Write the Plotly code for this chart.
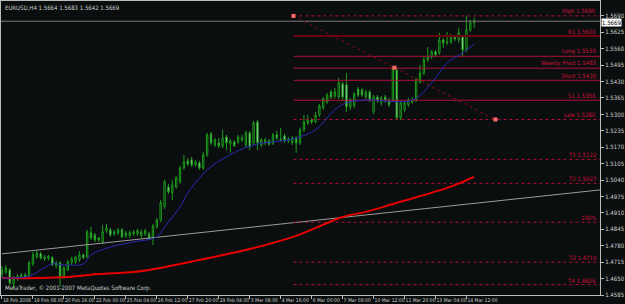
import plotly.graph_objects as go

# ---------------- data ----------------
symbol_header = "EURUSD,H4 1.5664 1.5683 1.5642 1.5669"
copyright_text = "MetaTrader, © 2001-2007 MetaQuotes Software Corp."

time_labels = ["18 Feb 2008", "19 Feb 08:00", "20 Feb 16:00", "22 Feb 00:00", "25 Feb 04:00",
               "26 Feb 12:00", "27 Feb 20:00", "29 Feb 04:00", "3 Mar 08:00", "4 Mar 16:00",
               "6 Mar 00:00", "7 Mar 08:00", "10 Mar 12:00", "11 Mar 20:00", "13 Mar 04:00",
               "14 Mar 12:00"]
time_label_bars = [0, 8, 16, 24, 32, 40, 48, 56, 64, 72, 80, 88, 96, 104, 112, 120]

price_ticks = [1.4585, 1.4650, 1.4715, 1.4780, 1.4845, 1.4910, 1.4975, 1.5040, 1.5105,
               1.5170, 1.5235, 1.5300, 1.5365, 1.5430, 1.5495, 1.5560, 1.5625, 1.5690]

opens = [1.4668, 1.4676, 1.4684, 1.4629, 1.4649, 1.4656, 1.4664, 1.4660, 1.4708, 1.4736,
         1.4748, 1.4728, 1.4730, 1.4732, 1.4704, 1.4712, 1.4656, 1.4684, 1.4712, 1.4716,
         1.4724, 1.4744, 1.4736, 1.4831, 1.4823, 1.4811, 1.4795, 1.4839, 1.4843, 1.4827,
         1.4831, 1.4843, 1.4819, 1.4820, 1.4827, 1.4827, 1.4819, 1.4827, 1.4827, 1.4811,
         1.4855, 1.4882, 1.4934, 1.5013, 1.4989, 1.5013, 1.5033, 1.5088, 1.5116, 1.5120,
         1.5100, 1.5108, 1.5088, 1.5140, 1.5223, 1.5179, 1.5187, 1.5175, 1.5211, 1.5183,
         1.5191, 1.5191, 1.5199, 1.5179, 1.5227, 1.5187, 1.5270, 1.5179, 1.5187, 1.5195,
         1.5187, 1.5219, 1.5199, 1.5215, 1.5195, 1.5187, 1.5207, 1.5187, 1.5239, 1.5266,
         1.5278, 1.5270, 1.5298, 1.5326, 1.5349, 1.5389, 1.5373, 1.5369, 1.5421, 1.5417,
         1.5330, 1.5334, 1.5401, 1.5397, 1.5369, 1.5389, 1.5310, 1.5369, 1.5346, 1.5369,
         1.5357, 1.5357, 1.5476, 1.5286, 1.5318, 1.5338, 1.5349, 1.5357, 1.5429, 1.5464,
         1.5516, 1.5528, 1.5548, 1.5544, 1.5595, 1.5583, 1.5587, 1.5607, 1.5595, 1.5607,
         1.5555, 1.5635, 1.5664]
highs = [1.4700, 1.4704, 1.4692, 1.4660, 1.4668, 1.4672, 1.4672, 1.4720, 1.4756, 1.4763,
         1.4756, 1.4744, 1.4745, 1.4740, 1.4720, 1.4720, 1.4700, 1.4724, 1.4736, 1.4740,
         1.4759, 1.4748, 1.4843, 1.4855, 1.4831, 1.4815, 1.4862, 1.4866, 1.4851, 1.4843,
         1.4851, 1.4851, 1.4839, 1.4840, 1.4843, 1.4847, 1.4843, 1.4847, 1.4835, 1.4866,
         1.4890, 1.4961, 1.5041, 1.5025, 1.5041, 1.5056, 1.5096, 1.5140, 1.5128, 1.5132,
         1.5120, 1.5116, 1.5152, 1.5227, 1.5231, 1.5207, 1.5207, 1.5239, 1.5219, 1.5203,
         1.5199, 1.5219, 1.5219, 1.5235, 1.5235, 1.5274, 1.5278, 1.5207, 1.5207, 1.5203,
         1.5227, 1.5235, 1.5247, 1.5223, 1.5211, 1.5215, 1.5215, 1.5247, 1.5298, 1.5298,
         1.5286, 1.5310, 1.5342, 1.5369, 1.5385, 1.5397, 1.5405, 1.5445, 1.5429, 1.5464,
         1.5365, 1.5389, 1.5409, 1.5405, 1.5397, 1.5397, 1.5377, 1.5377, 1.5373, 1.5377,
         1.5365, 1.5492, 1.5484, 1.5353, 1.5353, 1.5365, 1.5369, 1.5445, 1.5496, 1.5528,
         1.5567, 1.5555, 1.5555, 1.5623, 1.5603, 1.5627, 1.5619, 1.5615, 1.5643, 1.5615,
         1.5690, 1.5674, 1.5683]
lows = [1.4656, 1.4668, 1.4625, 1.4609, 1.4641, 1.4649, 1.4649, 1.4656, 1.4700, 1.4728,
        1.4724, 1.4720, 1.4722, 1.4700, 1.4692, 1.4617, 1.4649, 1.4680, 1.4704, 1.4708,
        1.4716, 1.4728, 1.4732, 1.4803, 1.4795, 1.4795, 1.4787, 1.4831, 1.4815, 1.4819,
        1.4823, 1.4811, 1.4811, 1.4812, 1.4819, 1.4819, 1.4811, 1.4819, 1.4807, 1.4783,
        1.4847, 1.4874, 1.4926, 1.4985, 1.4961, 1.5005, 1.5025, 1.5080, 1.5096, 1.5092,
        1.5092, 1.5080, 1.5080, 1.5132, 1.5179, 1.5171, 1.5167, 1.5167, 1.5159, 1.5148,
        1.5171, 1.5183, 1.5191, 1.5171, 1.5159, 1.5179, 1.5159, 1.5171, 1.5179, 1.5175,
        1.5179, 1.5199, 1.5191, 1.5187, 1.5187, 1.5179, 1.5148, 1.5179, 1.5231, 1.5258,
        1.5262, 1.5266, 1.5290, 1.5318, 1.5342, 1.5361, 1.5365, 1.5361, 1.5357, 1.5310,
        1.5318, 1.5326, 1.5369, 1.5369, 1.5361, 1.5349, 1.5302, 1.5346, 1.5334, 1.5346,
        1.5330, 1.5349, 1.5280, 1.5278, 1.5310, 1.5330, 1.5342, 1.5349, 1.5421, 1.5456,
        1.5508, 1.5520, 1.5528, 1.5536, 1.5563, 1.5575, 1.5579, 1.5591, 1.5583, 1.5528,
        1.5548, 1.5627, 1.5642]
closes = [1.4684, 1.4692, 1.4633, 1.4652, 1.4660, 1.4664, 1.4656, 1.4712, 1.4744, 1.4752,
          1.4732, 1.4736, 1.4738, 1.4704, 1.4712, 1.4656, 1.4692, 1.4716, 1.4728, 1.4736,
          1.4744, 1.4732, 1.4835, 1.4811, 1.4803, 1.4803, 1.4835, 1.4851, 1.4823, 1.4835,
          1.4843, 1.4815, 1.4831, 1.4832, 1.4835, 1.4839, 1.4835, 1.4839, 1.4811, 1.4858,
          1.4882, 1.4950, 1.5033, 1.4993, 1.5021, 1.5049, 1.5088, 1.5112, 1.5104, 1.5100,
          1.5112, 1.5088, 1.5140, 1.5219, 1.5187, 1.5199, 1.5175, 1.5207, 1.5187, 1.5195,
          1.5175, 1.5211, 1.5207, 1.5227, 1.5171, 1.5266, 1.5187, 1.5199, 1.5199, 1.5183,
          1.5219, 1.5207, 1.5203, 1.5195, 1.5203, 1.5207, 1.5187, 1.5239, 1.5270, 1.5278,
          1.5270, 1.5298, 1.5334, 1.5361, 1.5377, 1.5369, 1.5389, 1.5425, 1.5369, 1.5330,
          1.5357, 1.5381, 1.5377, 1.5377, 1.5389, 1.5357, 1.5369, 1.5353, 1.5365, 1.5353,
          1.5338, 1.5484, 1.5286, 1.5346, 1.5346, 1.5357, 1.5357, 1.5437, 1.5464, 1.5516,
          1.5528, 1.5548, 1.5536, 1.5595, 1.5583, 1.5587, 1.5607, 1.5599, 1.5623, 1.5555,
          1.5635, 1.5662, 1.5669]
bars = list(range(len(opens)))

blue_ma_bars = [0, 7, 13, 16, 21, 23, 28, 34, 40, 42, 46, 48, 53, 58, 65, 74, 77, 81, 86, 89,
                94, 106, 111, 115, 119, 122]
blue_ma_vals = [1.4652, 1.4660, 1.4708, 1.4704, 1.4708, 1.4744, 1.4775, 1.4795, 1.4815, 1.4855,
                1.4934, 1.4989, 1.5080, 1.5132, 1.5179, 1.5199, 1.5211, 1.5239, 1.5318, 1.5346,
                1.5357, 1.5357, 1.5425, 1.5504, 1.5544, 1.5579]

red_ma_bars = [0, 10, 17, 25, 34, 41, 46, 51, 64, 76, 88, 94, 102, 115, 122]
red_ma_vals = [1.4652, 1.4652, 1.4656, 1.4668, 1.4676, 1.4692, 1.4708, 1.4724, 1.4767, 1.4819,
               1.4894, 1.4914, 1.4950, 1.5009, 1.5053]

trend_bars = [0, 154.5]
trend_vals = [1.4748, 1.5001]

bid_price = 1.5669

level_names = ["High", "R1", "Long", "Weekly Pivot", "Short", "S1", "Low",
               "T1", "T2", "100%", "T3", "T4"]
level_vals = [1.5690, 1.5610, 1.5530, 1.5483, 1.5435, 1.5356, 1.5280,
              1.5122, 1.5027, 1.4873, 1.4715, 1.4626]
level_start_bar = 75.3

diag_bars = [75.3, 101.4, 127.5]
diag_vals = [1.5690, 1.5485, 1.5280]

# ---------------- styling ----------------
BG = "#0a0e0e"
AXIS = "#bcbcbc"
TXT = "#cfcfcf"
CANDLE_LINE = "#1c9c1c"
X_MAX = 154.5
Y_RANGE = [1.4585, 1.5749]
FONT = "Liberation Sans Narrow, DejaVu Sans Condensed, Liberation Sans, sans-serif"
FS = 6
FS_X = 5

level_style = {
    "High": ("#b0103a", "dot", 1), "R1": ("#6e0010", "solid", 2),
    "Long": ("#b0103a", "solid", 1), "Weekly Pivot": ("#b0103a", "solid", 1),
    "Short": ("#b0103a", "solid", 1), "S1": ("#b0103a", "solid", 1),
    "Low": ("#b0103a", "dot", 1),
}

fig = go.Figure()

# trend line
fig.add_trace(go.Scatter(x=trend_bars, y=trend_vals, mode="lines",
                         line=dict(color="#9c9c9c", width=1), hoverinfo="skip"))
# bid line
fig.add_trace(go.Scatter(x=[-1, X_MAX + 1], y=[bid_price, bid_price], mode="lines",
                         line=dict(color="#7a7a7a", width=1), hoverinfo="skip"))

# level lines
for name, val in zip(level_names, level_vals):
    col, dash, w = level_style.get(name, ("#b0103a", "dot", 1))
    fig.add_trace(go.Scatter(x=[level_start_bar, X_MAX + 1], y=[val, val], mode="lines",
                             line=dict(color=col, dash=dash, width=w), hoverinfo="skip"))
    label = name if name.endswith("%") else f"{name} {val:.4f}"
    fig.add_annotation(x=X_MAX - 0.4, y=val, xref="x", yref="y", text=label,
                       showarrow=False, xanchor="right", yanchor="bottom", yshift=-1,
                       font=dict(family=FONT, size=FS, color="#d0103a"))

# diagonal
fig.add_trace(go.Scatter(x=diag_bars, y=diag_vals, mode="lines+markers",
                         line=dict(color="#8a0a1a", dash="dot", width=1),
                         marker=dict(symbol="square", size=4, color="#ff6a6a"),
                         hoverinfo="skip"))

# moving averages
fig.add_trace(go.Scatter(x=red_ma_bars, y=red_ma_vals, mode="lines",
                         line=dict(color="#e80000", width=2, shape="spline"), hoverinfo="skip"))
fig.add_trace(go.Scatter(x=blue_ma_bars, y=blue_ma_vals, mode="lines",
                         line=dict(color="#2a2ab8", width=1, shape="spline"), hoverinfo="skip"))

# candles
fig.add_trace(go.Candlestick(
    x=bars, open=opens, high=highs, low=lows, close=closes,
    increasing=dict(line=dict(color=CANDLE_LINE, width=1), fillcolor="#000000"),
    decreasing=dict(line=dict(color=CANDLE_LINE, width=1), fillcolor="#eaffea"),
    whiskerwidth=0, hoverinfo="skip"))

# texts
fig.add_annotation(x=0, y=1, xref="paper", yref="paper", text=symbol_header,
                   showarrow=False, xanchor="left", yanchor="top", xshift=2, yshift=-1,
                   font=dict(family=FONT, size=FS, color=TXT))
fig.add_annotation(x=0, y=0, xref="paper", yref="paper", text=copyright_text,
                   showarrow=False, xanchor="left", yanchor="bottom", xshift=2, yshift=1,
                   font=dict(family=FONT, size=FS, color=TXT))
fig.add_annotation(x=1, y=bid_price, xref="paper", yref="y", text=f"{bid_price:.4f}",
                   showarrow=False, xanchor="left", yanchor="middle", xshift=1, yshift=-1,
                   bgcolor="#ffffff", borderpad=0,
                   font=dict(family=FONT, size=FS, color="#000000"))

fig.update_layout(
    width=625, height=304, margin=dict(l=0, r=19, t=1, b=9),
    paper_bgcolor=BG, plot_bgcolor=BG, showlegend=False, boxgap=0.5,
    xaxis=dict(range=[-0.255, X_MAX], rangeslider=dict(visible=False),
               tickvals=time_label_bars, ticktext=time_labels, tickangle=0,
               ticks="outside", ticklen=3, tickcolor=AXIS,
               ticklabelposition="outside right",
               tickfont=dict(family=FONT, size=FS_X, color=TXT),
               showgrid=False, zeroline=False, showline=True, linecolor=AXIS,
               mirror=True, linewidth=1),
    yaxis=dict(range=Y_RANGE, side="right", tickvals=price_ticks,
               ticktext=[f"{v:.4f}" for v in price_ticks],
               ticks="outside", ticklen=3, tickcolor=AXIS,
               tickfont=dict(family=FONT, size=FS, color=TXT),
               showgrid=False, zeroline=False, showline=True, linecolor=AXIS,
               mirror=True, linewidth=1),
)

fig.write_html("out.html")
